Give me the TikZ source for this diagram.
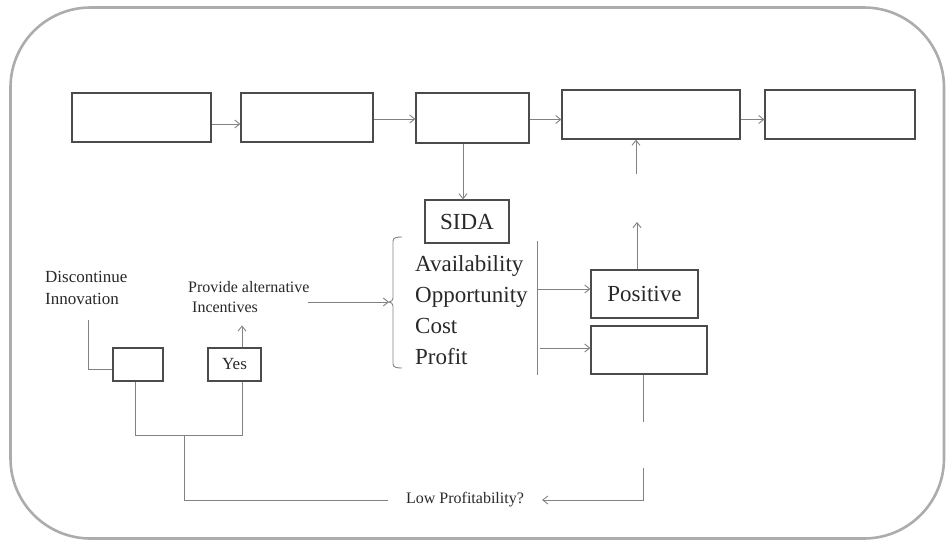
\documentclass[tikz,border=0pt]{standalone}
\usepackage{fontspec}
\setmainfont{Liberation Serif}
\usetikzlibrary{arrows.meta}
\definecolor{framec}{RGB}{172,172,172}
\definecolor{boxc}{RGB}{75,75,75}
\definecolor{linec}{RGB}{130,130,130}
\definecolor{textc}{RGB}{40,40,40}
\tikzset{
  box/.style={draw=boxc, line width=1.2pt, inner sep=0pt, text=textc},
  conn/.style={draw=linec, line width=0.9pt},
  arr/.style={conn, -{Straight Barb[length=5pt,width=8pt,line width=0.9pt]}},
  big/.style={text=textc, inner sep=0pt, font=\fontsize{23}{27}\selectfont},
  small/.style={text=textc, inner sep=0pt, font=\fontsize{16}{19}\selectfont},
  smallb/.style={text=textc, inner sep=0pt, font=\fontsize{17}{20}\selectfont},
}
\begin{document}
\begin{tikzpicture}[x=1pt,y=-1pt]
\useasboundingbox (0,0) rectangle (946,541);
% frame
\draw[framec, line width=2.6pt, rounded corners=80pt] (10.5,7.5) rectangle (944,538.5);

% top row
\node[box, minimum width=139pt, minimum height=49pt] (b1) at (141.5,117.5) {};
\node[box, minimum width=132pt, minimum height=49pt] (b2) at (307,117.5) {};
\node[box, minimum width=113pt, minimum height=50pt] (b3) at (472.5,118) {};
\node[box, minimum width=178pt, minimum height=49pt] (b4) at (651,114.5) {};
\node[box, minimum width=150pt, minimum height=49pt] (b5) at (840,114.5) {};

\draw[arr] ([yshift=-6.5pt]b1.east) -- ([yshift=-6.5pt]b2.west);
\draw[arr] ([yshift=-1.5pt]b2.east) -- ([yshift=-1.5pt]b2.east -| b3.west);
\draw[arr] ([yshift=-1.5pt]b3.east) -- ([yshift=-1.5pt]b3.east -| b4.west);
\draw[arr] ([yshift=-5pt]b4.east) -- ([yshift=-5pt]b5.west);

% SIDA
\node[box, big, draw=boxc, line width=1.2pt, minimum width=84pt, minimum height=43pt] (sida) at (467,221.5) {SIDA};
\draw[arr] ([xshift=-9.5pt]b3.south) -- ([xshift=-9.5pt]b3.south |- sida.north);

% list
\node[big, anchor=base west] (l1) at (415,271) {Availability};
\node[big, anchor=base west] (l2) at (415,302) {Opportunity};
\node[big, anchor=base west] (l3) at (415,333) {Cost};
\node[big, anchor=base west] (l4) at (415,364) {Profit};

% bracket
\coordinate (brt) at (402,237);
\coordinate (brm) at (389,302);
\coordinate (brb) at (402,368);
\draw[conn] (brt) to[out=180,in=90] (393,241) -- (393,298) to[out=-90,in=0] (brm)
  to[out=0,in=90] (393,306) -- (393,364) to[out=-90,in=180] (brb);

% vertical bar and outcome boxes
\coordinate (vt) at (537,241);
\coordinate (vb) at (537,375);
\draw[conn] (vt) -- (vb);
\node[box, big, minimum width=107pt, minimum height=48pt] (pos) at (644.5,294) {Positive};
\node[box, minimum width=116pt, minimum height=48pt] (neg) at (649,350) {};
\coordinate (a1) at (538,289);
\coordinate (a2) at (540,348);
\draw[arr] (a1) -- (a1 -| pos.west);
\draw[arr] (a2) -- (a2 -| neg.west);

% upward arrows
\coordinate (pu) at (637,222);
\draw[arr] (pos.north -| pu) -- (pu);
\coordinate (u4) at (636,174);
\draw[arr] (u4) -- (u4 |- b4.south);

% left part
\node[smallb, anchor=base west] (dc1) at (45,282) {Discontinue};
\node[smallb, anchor=base west] (dc2) at (45,304) {Innovation};
\node[small, anchor=base west] (pa1) at (188,292) {Provide alternative};
\node[small, anchor=base west] (pa2) at (192,312) {Incentives};
\node[box, minimum width=50pt, minimum height=33pt] (lb) at (138,364.5) {};
\node[box, smallb, minimum width=53pt, minimum height=33pt] (yes) at (234.5,364.5) {Yes};

\coordinate (dtop) at (88,320);
\draw[conn] (dtop) |- ([yshift=-4.5pt]lb.west);
\draw[arr] ([xshift=7.5pt]yes.north) -- ++(0,-22);
\coordinate (pas) at (308,302);
\draw[arr] (pas) -- (brm);

\coordinate (jl) at (135,435);
\coordinate (jr) at (242,435);
\coordinate (jm) at (184,435);
\draw[conn] ([xshift=-3pt]lb.south) -- (jl) -- (jr) -- ([xshift=7.5pt]yes.south);

% bottom feedback
\node[small, inner xsep=18pt, inner ysep=0pt] (low) at (465,500) {Low Profitability?};
\draw[conn] (jm) |- (low.west);
\coordinate (rv1) at (643,422);
\coordinate (rv2) at (643,468);
\draw[conn] (neg.south -| rv1) -- (rv1);
\draw[arr] (rv2) |- (low.east);
\end{tikzpicture}
\end{document}
